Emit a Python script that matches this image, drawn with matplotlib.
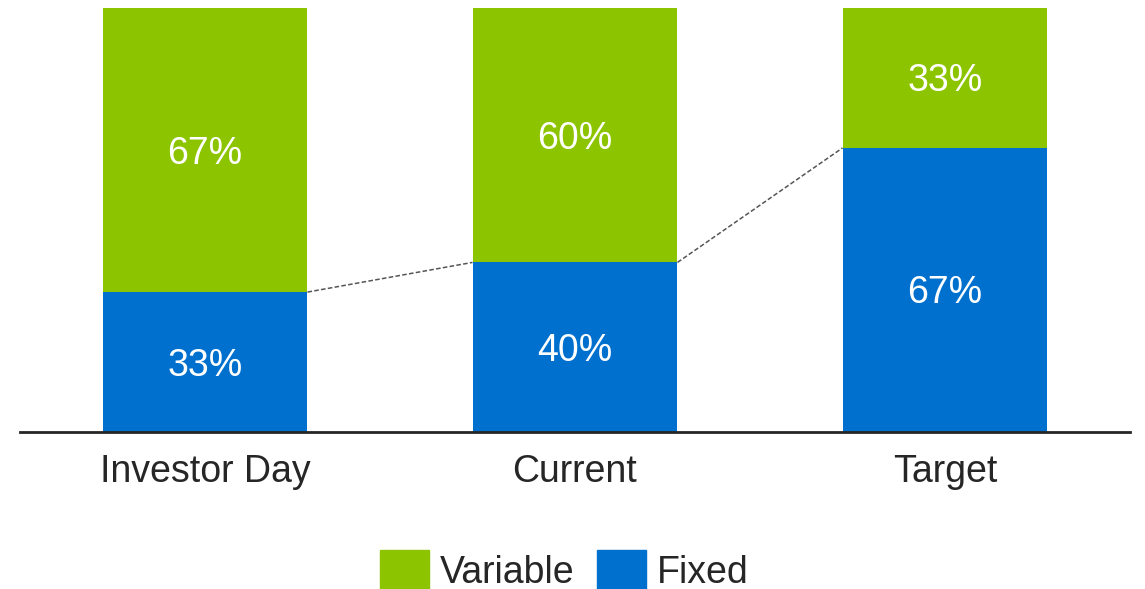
import matplotlib.pyplot as plt
from matplotlib.patches import Patch

plt.rcParams['font.family'] = ['Liberation Sans', 'DejaVu Sans']

categories = ['Investor Day', 'Current', 'Target']
fixed = [33, 40, 67]
variable = [67, 60, 33]

green = '#8CC400'
blue = '#0070CF'
dark = '#262626'

fig = plt.figure(figsize=(11.45, 5.89), dpi=100)
ax = fig.add_axes([20 / 1145, 157 / 589, 1110 / 1145, 424 / 589])

x = list(range(len(categories)))
w = 0.554
ax.bar(x, fixed, width=w, color=blue, label='Fixed')
ax.bar(x, variable, width=w, bottom=fixed, color=green, label='Variable')

# value labels centred in each segment
for i in x:
    ax.annotate(f'{fixed[i]}%', (i, fixed[i] / 2), xytext=(0, -2.5),
                textcoords='offset points', ha='center', va='center',
                color='white', fontsize=27)
    ax.annotate(f'{variable[i]}%', (i, fixed[i] + variable[i] / 2), xytext=(0, -2.5),
                textcoords='offset points', ha='center', va='center',
                color='white', fontsize=27)

# dashed connectors between the tops of the fixed segments
for i in range(len(x) - 1):
    ax.plot([x[i] + w / 2, x[i + 1] - w / 2], [fixed[i], fixed[i + 1]],
            ls=(0, (3, 1.5)), color='#555555', lw=1.1)

ax.set_xlim(-0.5, 2.5)
ax.set_ylim(0, 100)
for s in ['top', 'left', 'right']:
    ax.spines[s].set_visible(False)
ax.spines['bottom'].set_color(dark)
ax.spines['bottom'].set_linewidth(2)
ax.set_yticks([])
ax.set_xticks(x)
ax.set_xticklabels(categories, fontsize=27, color=dark)
ax.tick_params(axis='x', length=0, pad=16)

handles = [Patch(color=green, label='Variable'), Patch(color=blue, label='Fixed')]
fig.legend(handles=handles, loc='upper center', bbox_to_anchor=(0.493, 1 - 516 / 589),
           ncol=2, frameon=False, fontsize=27, handlelength=1.3, handleheight=1.3,
           handletextpad=0.3, columnspacing=0.6, labelcolor=dark)

fig.savefig('out.png', dpi=100)
